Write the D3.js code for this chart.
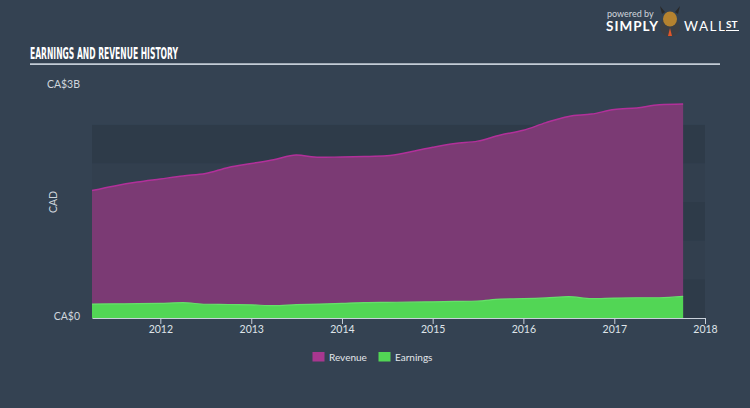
<!DOCTYPE html>
<html>
<head>
<meta charset="utf-8">
<script src="https://cdn.jsdelivr.net/npm/d3@7/dist/d3.min.js"></script>
<style>
  body { margin: 0; background: #344252; }
  svg { display: block; }
</style>
</head>
<body>
<div id="chart"></div>
<script>
// quarterly history, values in CA$ billions
const dates = ['2011-04-01','2011-07-01','2011-10-01','2012-01-01','2012-04-01','2012-07-01','2012-10-01',
  '2013-01-01','2013-04-01','2013-07-01','2013-10-01','2014-01-01','2014-04-01','2014-07-01','2014-10-01',
  '2015-01-01','2015-04-01','2015-07-01','2015-10-01','2016-01-01','2016-04-01','2016-07-01','2016-10-01',
  '2017-01-01','2017-04-01','2017-07-01','2017-10-05']
const revenue = [1.65,1.71,1.76,1.80,1.84,1.87,1.95,2.00,2.05,2.11,2.08,2.085,2.09,2.10,2.15,
  2.21,2.26,2.29,2.37,2.43,2.53,2.61,2.64,2.70,2.72,2.76,2.77]
const earnings = [0.18,0.183,0.185,0.19,0.198,0.178,0.175,0.17,0.16,0.172,0.18,0.19,0.20,0.203,0.205,
  0.21,0.215,0.22,0.245,0.25,0.26,0.276,0.25,0.258,0.262,0.262,0.28]
const yearTicks = ['2012','2013','2014','2015','2016','2017','2018']
const yLabels = ['CA$0','CA$3B']
const legendNames = ['Revenue','Earnings']

var parse = d3.timeParse('%Y-%m-%d')
var data = dates.map((d,i)=>({date: parse(d), revenue: revenue[i], earnings: earnings[i]}))

var width = 750, height = 408
var svg = d3.select('#chart').append('svg').attr('width', width).attr('height', height)
svg.append('rect').attr('width', width).attr('height', height).attr('fill', '#344252')

var x_scale = d3.scaleTime().domain([parse('2011-04-01'), parse('2018-01-01')]).range([92, 705])
var y_scale = d3.scaleLinear().domain([0, 3]).range([318, 86.3])

// background bands
var bands = d3.range(0, 5)
svg.selectAll('.band').data(bands).enter().append('rect')
  .attr('x', 92).attr('width', 613)
  .attr('y', d => y_scale(2.5 - d*0.5))
  .attr('height', y_scale(0) - y_scale(0.5))
  .attr('fill', d => d % 2 == 0 ? '#2e3b49' : '#323f4e')

// title
svg.append('text').attr('x', 30).attr('y', 59)
  .attr('font-family', '"DejaVu Sans Condensed", "Liberation Sans Narrow", sans-serif')
  .attr('font-weight', 'bold').attr('font-size', 16)
  .attr('textLength', 148).attr('lengthAdjust', 'spacingAndGlyphs')
  .attr('fill', '#ffffff').text('EARNINGS AND REVENUE HISTORY')
svg.append('line').attr('x1', 30).attr('x2', 720).attr('y1', 64.2).attr('y2', 64.2)
  .attr('stroke', '#c3ccd6').attr('stroke-width', 1.8)

// logo
svg.append('text').attr('x', 607).attr('y', 17).attr('font-family', 'Lato, sans-serif')
  .attr('font-size', 9).attr('fill', '#d0d6dd').text('powered by')
svg.append('text').attr('x', 606).attr('y', 30.5).attr('font-family', 'Lato, sans-serif')
  .attr('font-weight', 'bold').attr('font-size', 13.5).attr('textLength', 52).attr('fill', '#ffffff').text('SIMPLY')
svg.append('circle').attr('cx', 670).attr('cy', 27).attr('r', 10).attr('fill', '#3c3f44')
svg.append('ellipse').attr('cx', 670).attr('cy', 19).attr('rx', 7).attr('ry', 7.5).attr('fill', '#b5822f')
svg.append('path').attr('d', 'M662,14 L660,6 L665,12 Z M678,14 L680,6 L675,12 Z').attr('fill', '#2a2a2a')
svg.append('path').attr('d', 'M670,28 L668,36 L672,36 Z').attr('fill', '#e0562a')
svg.append('text').attr('x', 684).attr('y', 30.5).attr('font-family', 'Lato, sans-serif')
  .attr('font-size', 13.5).attr('textLength', 41).attr('fill', '#ffffff').text('WALL')
svg.append('text').attr('x', 726).attr('y', 28).attr('font-family', 'Lato, sans-serif')
  .attr('font-weight', 'bold').attr('font-size', 10).attr('fill', '#ffffff').text('ST')
svg.append('line').attr('x1', 726).attr('x2', 739).attr('y1', 30.5).attr('y2', 30.5)
  .attr('stroke', '#ffffff').attr('stroke-width', 1)

// areas
var revArea = d3.area().curve(d3.curveMonotoneX)
  .x(d => x_scale(d.date)).y0(y_scale(0)).y1(d => y_scale(d.revenue))
var revLine = d3.line().curve(d3.curveMonotoneX)
  .x(d => x_scale(d.date)).y(d => y_scale(d.revenue))
var earnArea = d3.area().curve(d3.curveMonotoneX)
  .x(d => x_scale(d.date)).y0(y_scale(0)).y1(d => y_scale(d.earnings))
var earnLine = d3.line().curve(d3.curveMonotoneX)
  .x(d => x_scale(d.date)).y(d => y_scale(d.earnings))

svg.append('path').datum(data).attr('d', revArea).attr('fill', '#7b3a74')
svg.append('path').datum(data).attr('d', revLine).attr('fill', 'none')
  .attr('stroke', '#b2309a').attr('stroke-width', 1.5)
svg.append('path').datum(data).attr('d', earnArea).attr('fill', '#52d655')
svg.append('path').datum(data).attr('d', earnLine).attr('fill', 'none')
  .attr('stroke', '#66e06a').attr('stroke-width', 1.2)

// x axis
var x_axis = d3.axisBottom(x_scale)
  .tickValues(yearTicks.map(y => parse(y + '-01-01')))
  .tickFormat(d3.timeFormat('%Y')).tickSize(6).tickSizeOuter(0)
var gx = svg.append('g').attr('transform', 'translate(0,318)').call(x_axis)
gx.select('.domain').attr('stroke', '#c9d1da').attr('stroke-width', 1.2)
gx.selectAll('.tick line').attr('stroke', '#c9d1da')
gx.selectAll('.tick text').attr('fill', '#dfe4e9').attr('font-size', 10.5)
  .attr('font-family', 'Lato, sans-serif').attr('dy', '0.6em')

// y labels
svg.selectAll('.ylab').data(yLabels).enter().append('text')
  .attr('x', 80).attr('y', (d,i) => i == 0 ? y_scale(0) + 1.5 : 88)
  .attr('text-anchor', 'end').attr('font-family', 'Lato, sans-serif').attr('font-size', 10.5)
  .attr('fill', '#d0d6dd').text(d => d)
svg.append('text').attr('transform', 'translate(57,202) rotate(-90)')
  .attr('text-anchor', 'middle').attr('font-family', 'Lato, sans-serif').attr('font-size', 10.5)
  .attr('fill', '#d0d6dd').text('CAD')

// legend
var colors = ['#a8378f', '#52d655']
var legend = svg.selectAll('.legend').data(legendNames).enter().append('g')
  .attr('transform', (d,i) => 'translate(' + (312.5 + i*66) + ',352)')
legend.append('rect').attr('width', 12).attr('height', 9.5).attr('fill', (d,i) => colors[i])
legend.append('text').attr('x', 16.5).attr('y', 8.5)
  .attr('font-family', 'Lato, sans-serif').attr('font-size', 10)
  .attr('fill', '#e3e7eb').text(d => d)
</script>
</body>
</html>
